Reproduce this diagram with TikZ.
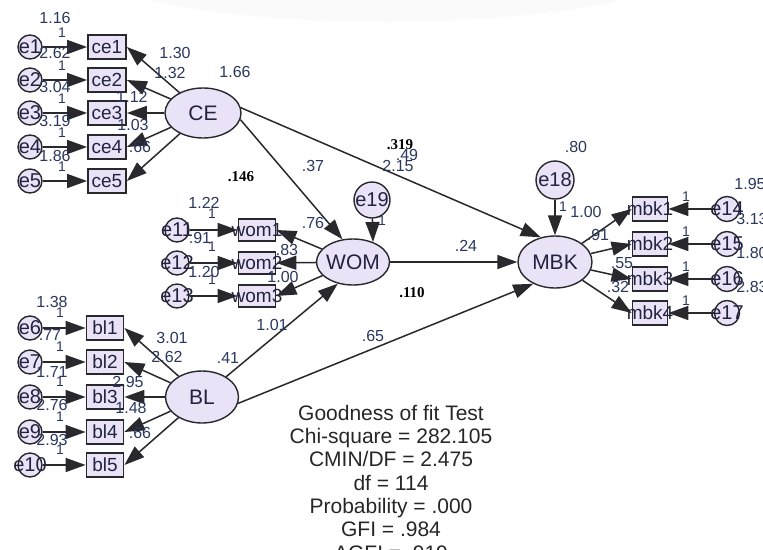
\documentclass[tikz,border=0pt]{standalone}
\usepackage{fontspec}
\setmainfont{Liberation Sans}
\newfontfamily\estserif{Liberation Serif}
\usetikzlibrary{shapes, arrows.meta, positioning}
\definecolor{nodelav}{RGB}{234, 226, 246}
\definecolor{edgegray}{RGB}{40, 40, 45}
\definecolor{estblue}{RGB}{42, 55, 95}
\definecolor{nametext}{RGB}{35, 35, 65}
\newcommand{\nb}[1]{\makebox[0pt]{#1}}
\tikzset{
  latent/.style={ellipse, draw=edgegray, line width=1.4pt, fill=nodelav, inner sep=0pt, text=nametext, font=\fontsize{21}{21}\selectfont},
  indic/.style={rectangle, draw=edgegray, line width=1.8pt, fill=nodelav, minimum width=37pt, minimum height=24pt, inner sep=0pt, text=nametext, font=\fontsize{19}{19}\selectfont},
  errc/.style={circle, draw=edgegray, line width=1.4pt, fill=nodelav, minimum size=24pt, inner sep=0pt, text=nametext, font=\fontsize{20}{20}\selectfont},
  est/.style={text=estblue, inner sep=0pt, font=\fontsize{16}{16}\selectfont},
  onefix/.style={est, font=\fontsize{14}{14}\selectfont},
  boldest/.style={inner sep=0pt, font=\estserif\bfseries\fontsize{15}{15}\selectfont},
  fitline/.style={anchor=base, inner sep=0pt, text=black!85, font=\fontsize{21}{21}\selectfont},
  patharr/.style={-{Triangle[length=20pt,width=14pt]}, line width=1.5pt, draw=edgegray},
}

\begin{document}
\begin{tikzpicture}[x=1pt, y=-1pt]
  \useasboundingbox (0,0) rectangle (763,549);
  \fill[gray!4] (385,-50) ellipse (330pt and 72pt);

  % latent variables
  \node[latent, minimum width=76pt, minimum height=50pt] (CE) at (203,113) {\nb{CE}};
  \node[latent, minimum width=73pt, minimum height=46pt] (WOM) at (353,262) {\nb{WOM}};
  \node[latent, minimum width=73pt, minimum height=52pt] (BL) at (202,397) {\nb{BL}};
  \node[latent, minimum width=74pt, minimum height=52pt] (MBK) at (555,262) {\nb{MBK}};
  \node[errc, minimum size=36pt] (e19) at (372,200) {\nb{e19}};
  \node[errc, minimum size=38pt] (e18) at (555,180) {\nb{e18}};

  % indicators
  \foreach \i/\y in {1/47, 2/80, 3/113, 4/147, 5/181} {
    \node[indic, minimum width=38pt] (ce\i) at (107,\y) {\nb{ce\i}};
    \node[errc] (e\i) at (30,\y) {\nb{e\i}};
    \draw[patharr] (e\i) -- (ce\i);
    \draw[patharr] (CE) -- (ce\i.east);
    \node[onefix] (fce\i) at (62,\y-14) {1};
  }
  \foreach \i/\e/\y in {1/6/328, 2/7/362, 3/8/397, 4/9/432, 5/10/465} {
    \node[indic] (bl\i) at (105,\y) {\nb{bl\i}};
    \node[errc] (e\e) at (30,\y) {\nb{e\e}};
    \draw[patharr] (e\e) -- (bl\i);
    \draw[patharr] (BL) -- (bl\i.east);
    \node[onefix] (fbl\i) at (60,\y-15) {1};
  }
  \foreach \i/\e/\y in {1/11/230, 2/12/263, 3/13/296} {
    \node[indic, minimum height=22pt] (wom\i) at (257,\y) {\nb{wom\i}};
    \node[errc] (e\e) at (177,\y) {\nb{e\e}};
    \draw[patharr] (e\e) -- (wom\i);
    \draw[patharr] (WOM) -- (wom\i.east);
    \node[onefix] (fwom\i) at (212,\y-16) {1};
  }
  \foreach \i/\e/\y in {1/14/209, 2/15/244, 3/16/279, 4/17/313} {
    \node[indic, minimum width=35pt] (mbk\i) at (650,\y) {\nb{mbk\i}};
    \node[errc, minimum size=25pt] (e\e) at (727,\y) {\nb{e\e}};
    \draw[patharr] (e\e) -- (mbk\i);
    \draw[patharr] (MBK) -- (mbk\i.west);
    \node[onefix] (fmbk\i) at (686,\y-12) {1};
  }

  % structural paths
  \draw[patharr] (CE.-10) -- (WOM.115);
  \draw[patharr] (CE.8) -- (MBK.120);
  \draw[patharr] (WOM) -- (MBK);
  \draw[patharr] (BL.40) -- (WOM.235);
  \draw[patharr] (BL.-10) -- (MBK.225);
  \draw[patharr] (e19) -- (WOM.45);
  \draw[patharr] (e18) -- (MBK);
  \node[onefix] (f19) at (382,221) {1};
  \node[onefix] (f18) at (563,207) {1};

  % estimates
  \foreach \n/\x/\y/\t in {v1/55/18/1.16, v2/55/53/2.62, v3/55/87/3.04, v4/55/121/3.19, v5/55/156/1.86,
      v6/52/302/1.38, v7/50/335/.77, v8/52/372/1.71, v9/52/405/2.76, v10/52/440/2.93,
      v11/204/203/1.22, v12/200/238/.91, v13/204/272/1.20,
      v14/750/184/1.95, v15/752/219/3.13, v16/752/253/1.80, v17/752/287/2.83,
      vCE/235/72/1.66, vBL/228/358/.41, v18/576/147/.80,
      lce1/175/53/1.30, lce2/170/73/1.32, lce3/132/97/1.12, lce4/133/125/1.03, lce5/140/147/.66,
      lbl1/172/338/3.01, lbl2/167/357/2.62, lbl3/128/382/2.95, lbl4/131/408/1.48, lbl5/140/433/.66,
      lwom1/313/223/.76, lwom2/287/250/.83, lwom3/283/277/1.00,
      lmbk1/586/212/1.00, lmbk2/598/235/.91, lmbk3/622/263/.55, lmbk4/618/287/.32,
      gCW/313/166/.37, gBW/272/325/1.01, gWM/466/246/.24, gBM/373/336/.65, gCM/398/166/2.15, gCMb/407/155/.49}
    \node[est] (\n) at (\x,\y) {\t};
  \foreach \n/\x/\y/\t in {b1/241/177/.146, b2/412/293/.110, b3/400/145/.319}
    \node[boldest] (\n) at (\x,\y) {\t};

  % fit summary
  \foreach \t [count=\k] in {Goodness of fit Test, Chi-square = 282.105, CMIN/DF = 2.475,
      df = 114, Probability = .000, GFI = .984, AGFI = .919}
    \node[fitline] (fit\k) at (391,397+23.3*\k) {\t};
\end{tikzpicture}
\end{document}
